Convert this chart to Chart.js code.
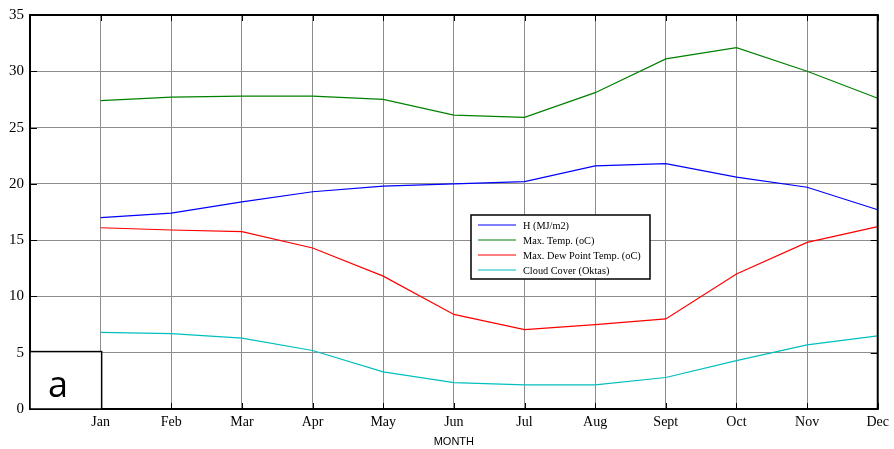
<!DOCTYPE html>
<html>
<head>
<meta charset="utf-8">
<script src="https://cdn.jsdelivr.net/npm/chart.js@4.4.1/dist/chart.umd.min.js"></script>
<style>
  html, body { margin: 0; padding: 0; background: #fff; }
  #wrap { width: 894px; height: 449px; position: relative; }
</style>
</head>
<body>
<div id="wrap"><canvas id="chart"></canvas></div>
<script>
// mois (position 1..12 sur l'axe x)
const months = ["Jan", "Feb", "Mar", "Apr", "May", "Jun", "Jul", "Aug", "Sept", "Oct", "Nov", "Dec"];
const solarH = [17.0, 17.4, 18.4, 19.3, 19.8, 20.0, 20.2, 21.6, 21.8, 20.6, 19.7, 17.7];
const maxTemp = [27.4, 27.7, 27.8, 27.8, 27.5, 26.1, 25.9, 28.1, 31.1, 32.1, 30.0, 27.6];
const dewPoint = [16.1, 15.9, 15.75, 14.3, 11.8, 8.4, 7.05, 7.5, 8.0, 12.0, 14.8, 16.2];
const cloudCover = [6.8, 6.7, 6.3, 5.2, 3.3, 2.35, 2.15, 2.15, 2.8, 4.3, 5.7, 6.5];
const yTicks = [0, 5, 10, 15, 20, 25, 30, 35];

const toPoints = (arr) => arr.map((v, i) => ({ x: i + 1, y: v }));

const series = [
  { label: "H (MJ/m2)", data: solarH, color: "#0000ff" },
  { label: "Max. Temp. (oC)", data: maxTemp, color: "#008000" },
  { label: "Max. Dew Point Temp. (oC)", data: dewPoint, color: "#ff0000" },
  { label: "Cloud Cover (Oktas)", data: cloudCover, color: "#00bfbf" },
];

// cadre, légende et encart "a" dessinés à la main
const extras = {
  id: "extras",
  afterDraw(chart) {
    const ctx = chart.ctx;
    const a = chart.chartArea;
    const xs = chart.scales.x;
    const ys = chart.scales.y;
    ctx.save();
    // petites graduations intérieures en haut et à droite
    ctx.strokeStyle = "#000";
    ctx.lineWidth = 1;
    for (let i = 1; i <= 12; i++) {
      const px = Math.round(xs.getPixelForValue(i)) + 0.5;
      ctx.beginPath();
      ctx.moveTo(px, a.top); ctx.lineTo(px, a.top + 6);
      ctx.moveTo(px, a.bottom); ctx.lineTo(px, a.bottom - 6);
      ctx.stroke();
    }
    yTicks.forEach((v) => {
      const py = Math.round(ys.getPixelForValue(v)) + 0.5;
      ctx.beginPath();
      ctx.moveTo(a.right, py); ctx.lineTo(a.right - 7, py);
      ctx.moveTo(a.left, py); ctx.lineTo(a.left + 7, py);
      ctx.stroke();
    });
    // cadre
    ctx.lineWidth = 2;
    ctx.strokeRect(a.left, a.top, a.right - a.left, a.bottom - a.top);

    // encart "a"
    const bx = a.left, by = ys.getPixelForValue(5.1);
    const bw = xs.getPixelForValue(1) - a.left + 1, bh = a.bottom - by;
    ctx.fillStyle = "#fff";
    ctx.fillRect(bx, by, bw, bh);
    ctx.lineWidth = 1.5;
    ctx.strokeRect(bx, by, bw, bh);
    ctx.fillStyle = "#000";
    ctx.font = "36px 'Open Sans', 'Noto Sans', sans-serif";
    ctx.textAlign = "center";
    ctx.textBaseline = "alphabetic";
    ctx.fillText("a", 58, 397);

    // légende
    const lx = 471, ly = 215, lw = 179, lh = 64;
    ctx.fillStyle = "#fff";
    ctx.fillRect(lx, ly, lw, lh);
    ctx.lineWidth = 1.5;
    ctx.strokeStyle = "#000";
    ctx.strokeRect(lx, ly, lw, lh);
    ctx.font = "10.3px 'Liberation Serif', 'Times New Roman', serif";
    ctx.textAlign = "left";
    ctx.textBaseline = "middle";
    series.forEach((s, i) => {
      const yy = ly + 10 + i * 15;
      ctx.strokeStyle = s.color;
      ctx.lineWidth = 1;
      ctx.beginPath();
      ctx.moveTo(478, yy); ctx.lineTo(516, yy);
      ctx.stroke();
      ctx.fillStyle = "#000";
      ctx.fillText(s.label, 523, yy + 1);
    });
    ctx.restore();
  },
};

new Chart(document.getElementById("chart"), {
  type: "line",
  data: {
    datasets: series.map((s) => ({
      label: s.label,
      data: toPoints(s.data),
      borderColor: s.color,
      backgroundColor: s.color,
      borderWidth: 1.2,
      pointRadius: 0,
      tension: 0,
    })),
  },
  options: {
    responsive: true,
    maintainAspectRatio: false,
    animation: false,
    layout: { padding: { top: 14, right: 15, left: 0, bottom: 0 } },
    plugins: { legend: { display: false }, tooltip: { enabled: false } },
    scales: {
      x: {
        type: "linear",
        min: 0,
        max: 12,
        afterFit: (s) => { s.height = 40; },
        afterBuildTicks: (s) => { s.ticks = Array.from({ length: 13 }, (_, i) => ({ value: i })); },
        ticks: {
          autoSkip: false,
          maxRotation: 0,
          color: "#000",
          padding: 5,
          font: { family: "'Liberation Serif', 'Times New Roman', serif", size: 14 },
          callback: (v) => (v >= 1 ? months[v - 1] : ""),
        },
        grid: { color: "#8c8c8c", lineWidth: 1, drawTicks: false },
        border: { color: "#000", width: 2 },
        title: {
          display: true,
          text: "MONTH",
          color: "#000",
          padding: { top: 0, bottom: 0 },
          font: { family: "'Liberation Sans', Arial, sans-serif", size: 11 },
        },
      },
      y: {
        min: 0,
        max: 35,
        afterFit: (s) => { s.width = 30; },
        afterBuildTicks: (s) => { s.ticks = yTicks.map((v) => ({ value: v })); },
        ticks: {
          color: "#000",
          padding: 6,
          font: { family: "'Liberation Serif', 'Times New Roman', serif", size: 15 },
        },
        grid: { color: "#8c8c8c", lineWidth: 1, drawTicks: false },
        border: { color: "#000", width: 2 },
      },
    },
  },
  plugins: [extras],
});
</script>
</body>
</html>
